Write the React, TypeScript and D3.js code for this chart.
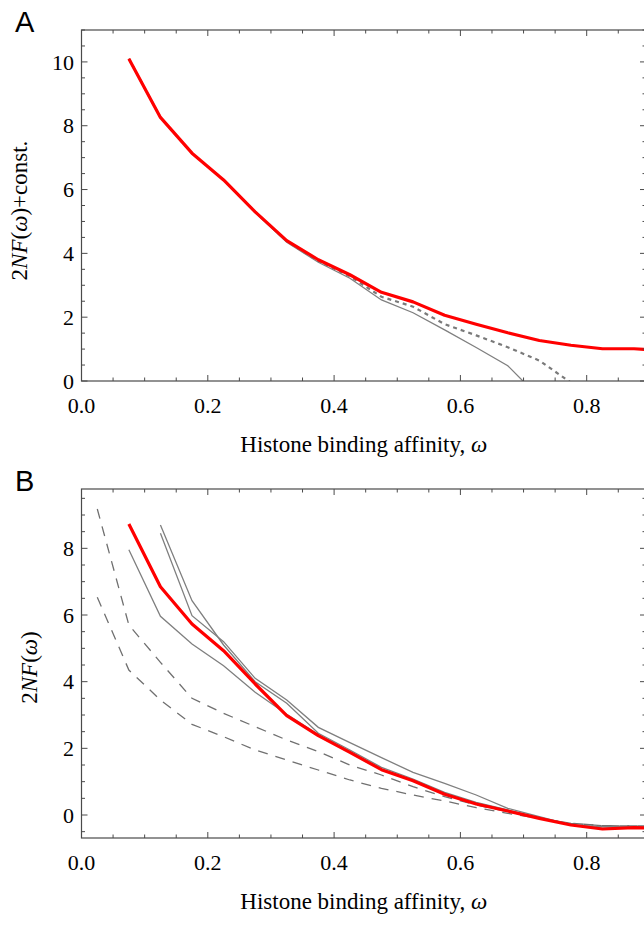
import React from "react";
import * as d3 from "d3";

// ---------- data ----------
const xsA = [0.075, 0.125, 0.175, 0.225, 0.275, 0.325, 0.375, 0.425, 0.475, 0.525, 0.575, 0.625, 0.675, 0.725, 0.775, 0.825, 0.875, 0.925];
const redA = [10.1, 8.26, 7.14, 6.3, 5.3, 4.4, 3.8, 3.33, 2.78, 2.48, 2.06, 1.78, 1.51, 1.27, 1.12, 1.01, 1.01, 0.95];
const solidA = [10.1, 8.26, 7.14, 6.3, 5.28, 4.35, 3.72, 3.22, 2.54, 2.14, 1.6, 1.05, 0.48, -0.52];
const dottedA = [10.1, 8.26, 7.14, 6.3, 5.3, 4.38, 3.76, 3.28, 2.64, 2.33, 1.78, 1.43, 1.06, 0.64, -0.05];

const xsB = [0.025, 0.075, 0.125, 0.175, 0.225, 0.275, 0.325, 0.375, 0.425, 0.475, 0.525, 0.575, 0.625, 0.675, 0.725, 0.775, 0.825, 0.875, 0.925];
const redB = [8.73, 6.85, 5.73, 4.93, 3.93, 2.98, 2.38, 1.88, 1.36, 1.03, 0.62, 0.33, 0.12, -0.1, -0.3, -0.42, -0.38, -0.4];
const solidB1 = [7.96, 5.96, 5.13, 4.48, 3.68, 3.02, 2.41, 1.91, 1.38, 1.05, 0.64, 0.35, 0.13, -0.09, -0.3, -0.4, -0.37, -0.38];
const solidB2 = [8.7, 6.43, 5.1, 4.0, 3.35, 2.45, 1.95, 1.43, 1.08, 0.68, 0.38, 0.15, -0.08, -0.3, -0.4, -0.38, -0.38];
const solidB3 = [8.45, 5.98, 5.2, 4.1, 3.45, 2.63, 2.17, 1.72, 1.28, 0.95, 0.6, 0.2, -0.05, -0.3, -0.35, -0.35, -0.36];
const dashedB1 = [9.18, 5.7, 4.58, 3.5, 3.05, 2.65, 2.25, 1.9, 1.5, 1.2, 0.85, 0.55, 0.3, 0.1, -0.1, -0.25, -0.32, -0.33, -0.33];
const dashedB2 = [6.53, 4.35, 3.45, 2.72, 2.35, 1.95, 1.65, 1.35, 1.05, 0.8, 0.6, 0.42, 0.22, 0.05, -0.1, -0.25, -0.32, -0.33, -0.33];

const xMajor = [0, 0.2, 0.4, 0.6, 0.8];
const xTickLabels = ["0.0", "0.2", "0.4", "0.6", "0.8"];
const yMajorA = [0, 2, 4, 6, 8, 10];
const yMajorB = [0, 2, 4, 6, 8];

// ---------- layout ----------
const W = 644;
const H = 927;
const left = 81.5;
const right = 646;
const x = d3.scaleLinear().domain([0, 1]).range([left, 713]);

const panelA = { top: 30, bottom: 381, y: d3.scaleLinear().domain([0, 11]).range([381, 30]) };
const panelB = { top: 489, bottom: 838, y: d3.scaleLinear().domain([-0.69, 9.78]).range([838, 489]) };

const FRAME = "#4a4a4a";
const SERIF = "'Liberation Serif', 'Times New Roman', serif";
const SANS = "'Liberation Sans', Arial, sans-serif";

function series(xs: number[], ys: number[]) {
  return ys.map((v, i) => [xs[i], v] as [number, number]);
}

function Frame({ p, yMajor, yMin, yMax, id }: any) {
  const y = p.y;
  const xMinor = d3.range(0, 0.951, 0.05).filter((v) => x(v) <= right);
  const yMinor = d3.range(yMin, yMax + 0.001, 0.5);
  const maj = 6;
  const mnr = 3.5;
  return (
    <g>
      {xMinor.map((v, i) => {
        const isMaj = xMajor.some((m) => Math.abs(m - v) < 1e-6);
        const L = isMaj ? maj : mnr;
        return (
          <g key={"xt" + i} stroke={FRAME} strokeWidth={1}>
            <line x1={x(v)} x2={x(v)} y1={p.bottom} y2={p.bottom - L} />
            <line x1={x(v)} x2={x(v)} y1={p.top} y2={p.top + L} />
          </g>
        );
      })}
      {yMinor.map((v, i) => {
        const isMaj = yMajor.some((m: number) => Math.abs(m - v) < 1e-6);
        const L = isMaj ? maj : mnr;
        return (
          <g key={"yt" + i} stroke={FRAME} strokeWidth={1}>
            <line x1={left} x2={left + L} y1={y(v)} y2={y(v)} />
            <line x1={right} x2={right - L} y1={y(v)} y2={y(v)} />
          </g>
        );
      })}
      <rect x={left} y={p.top} width={right - left} height={p.bottom - p.top} fill="none" stroke={FRAME} strokeWidth={1.2} />
      {xMajor.map((v, i) => (
        <text key={"xl" + i} x={x(v)} y={p.bottom + 32} textAnchor="middle" fontFamily={SERIF} fontSize={22} fill="#000">
          {xTickLabels[i]}
        </text>
      ))}
      {yMajor.map((v: number, i: number) => (
        <text key={"yl" + i} x={left - 7.5} y={y(v)} dy="0.35em" textAnchor="end" fontFamily={SERIF} fontSize={22} fill="#000">
          {String(v)}
        </text>
      ))}
      <text x={(left + right) / 2} y={p.bottom + 70.5} textAnchor="middle" fontFamily={SERIF} fontSize={23} fill="#000">
        Histone binding affinity, <tspan fontStyle="italic">ω</tspan>
      </text>
    </g>
  );
}

export default function App() {
  const lineA = d3.line<[number, number]>().x((d) => x(d[0])).y((d) => panelA.y(d[1]));
  const lineB = d3.line<[number, number]>().x((d) => x(d[0])).y((d) => panelB.y(d[1]));

  return (
    <svg width={W} height={H} style={{ position: "absolute", left: 0, top: 0, background: "#fff" }}>
      <defs>
        <clipPath id="clipA">
          <rect x={left} y={panelA.top} width={right - left} height={panelA.bottom - panelA.top} />
        </clipPath>
        <clipPath id="clipB">
          <rect x={left} y={panelB.top} width={right - left} height={panelB.bottom - panelB.top} />
        </clipPath>
      </defs>

      {/* Panel A */}
      <text x={15} y={32} fontFamily={SANS} fontSize={29} fill="#000">A</text>
      <g clipPath="url(#clipA)" fill="none">
        <path d={lineA(series(xsA, solidA)) || ""} stroke="#7f7f7f" strokeWidth={1.3} />
        <path d={lineA(series(xsA, dottedA)) || ""} stroke="#7a7a7a" strokeWidth={2.2} strokeDasharray="4,4" />
        <path d={lineA(series(xsA, redA)) || ""} stroke="#ff0000" strokeWidth={3.2} strokeLinejoin="round" />
      </g>
      <Frame p={panelA} yMajor={yMajorA} yMin={0} yMax={11} id="A" />
      <text transform={`translate(27,${(panelA.top + panelA.bottom) / 2 + 5}) rotate(-90)`} textAnchor="middle" fontFamily={SERIF} fontSize={23} fill="#000">
        2<tspan fontStyle="italic">NF</tspan>(<tspan fontStyle="italic">ω</tspan>)+const.
      </text>

      {/* Panel B */}
      <text x={15} y={491} fontFamily={SANS} fontSize={29} fill="#000">B</text>
      <g clipPath="url(#clipB)" fill="none">
        <path d={lineB(series(xsB, dashedB1)) || ""} stroke="#707070" strokeWidth={1.3} strokeDasharray="10,8" />
        <path d={lineB(series(xsB, dashedB2)) || ""} stroke="#707070" strokeWidth={1.3} strokeDasharray="10,8" />
        <path d={lineB(series(xsA, solidB1)) || ""} stroke="#7f7f7f" strokeWidth={1.3} />
        <path d={lineB(series(xsA.slice(1), solidB2)) || ""} stroke="#7f7f7f" strokeWidth={1.3} />
        <path d={lineB(series(xsA.slice(1), solidB3)) || ""} stroke="#7f7f7f" strokeWidth={1.3} />
        <path d={lineB(series(xsA, redB)) || ""} stroke="#ff0000" strokeWidth={3.2} strokeLinejoin="round" />
      </g>
      <Frame p={panelB} yMajor={yMajorB} yMin={-0.5} yMax={9.5} id="B" />
      <text transform={`translate(37,${(panelB.top + panelB.bottom) / 2 + 4}) rotate(-90)`} textAnchor="middle" fontFamily={SERIF} fontSize={23} fill="#000">
        2<tspan fontStyle="italic">NF</tspan>(<tspan fontStyle="italic">ω</tspan>)
      </text>
    </svg>
  );
}
